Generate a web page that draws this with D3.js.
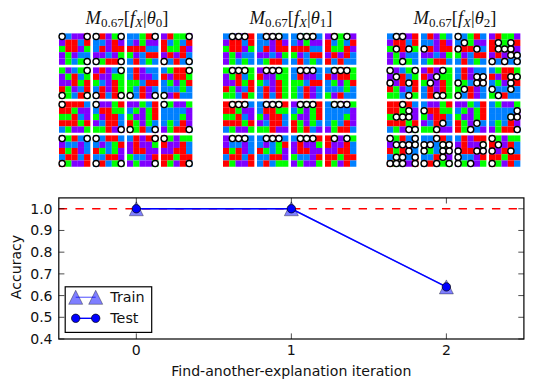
<!DOCTYPE html>
<html><head><meta charset="utf-8">
<script src="https://cdn.jsdelivr.net/npm/d3@7"></script>
<style>html,body{margin:0;padding:0;background:#fff}svg{display:block}</style>
</head><body><svg id="c" width="533" height="389"></svg>
<script>
const iterations=[0,1,2];
const trainAccuracy=[1.0,1.0,0.64];
const testAccuracy=[1.0,1.0,0.64];
const yTicks=[0.4,0.5,0.6,0.7,0.8,0.9,1.0];
const baseline=[1.0];
const thetaLabels=["0","1","2"];
const palette={R:"#ff0000",G:"#00ff00",B:"#0080ff",P:"#8000ff"};
// 16 example grids, row by row
const grids=[
["BBPPR","PRRBR","GRRPG","PGPBB","PGBGB"],
["BRPGB","BBPRP","BRPRR","PPBPG","BGRRB"],
["BBGRB","BPGPP","RRRBB","GPBRR","BRBGB"],
["PRGGP","RBGBR","RGGRP","PRPRB","RBRBB"],
["GPBGG","PGRBG","PPRGR","RGPBR","GGBRG"],
["PRPBG","RPPGG","GBPRG","BRPRG","BRBRG"],
["BRPBB","BRPPB","GGBRR","GBRPB","GBRPB"],
["BGRRG","RPRRG","BGPGR","BBBGB","GPRBB"],
["RRRRB","RRGPP","GGRBP","RRRGR","BGPPG"],
["BPPGR","BRRGG","GPRRB","PBRRB","GGRPP"],
["PPGBR","BGPGR","GPPGR","RGPGB","RGRBP"],
["BGPPG","BBBBP","BBBGP","BGBRP","PGRRB"],
["PGRBB","PBBPB","RGRPB","BRRBR","RGPPR"],
["BBRRB","BPBGR","RGBGP","BBRRP","BRBGG"],
["BRPRR","PRPPG","PRRPP","GBBPR","PGPPG"],
["RGPGG","RPPRB","PPRRB","RRGRR","RGPRB"]
];
// highlighted cells per example as [row,col], one list per panel
const dots0=[
[[0,0],[0,4],[4,4]],[[0,0],[0,4],[4,0],[4,4]],[[0,4]],[[0,4],[4,0],[4,4]],
[[0,4],[4,0],[4,4]],[[0,4],[4,0],[4,4]],[[4,0],[4,4]],[[0,4],[4,0]],
[[0,0]],[[0,0],[4,4]],[[4,0],[4,4]],[[0,0],[4,4]],
[[0,0],[0,4],[4,0]],[[0,0],[4,0],[4,4]],[[0,4],[4,4]],[[0,0],[4,4]]
];
const top3=[[0,1],[0,2],[0,3]], top2=[[0,1],[0,3]];
const dots1=[top3,top3,top3,top2,top3,top3,top3,top3,top3,top3,top3,top3,top3,top3,top3,top2];
const dots2=[
[[0,1],[0,2],[2,1],[2,3],[4,2]],[[2,0]],[[0,0],[1,1],[2,0],[2,3]],
[[1,1],[1,3],[2,1],[2,2],[2,3],[3,3],[3,4],[4,0],[4,2],[4,4]],
[[0,0],[0,4],[1,1],[2,0],[2,3],[4,3]],[[0,3],[1,2],[2,1],[4,2],[4,3]],
[[1,3],[1,4],[2,3],[2,4],[2,0],[3,1],[4,0]],[[1,3],[1,4],[2,3],[3,3],[3,0],[4,1]],
[[0,2],[1,3],[2,1],[2,2],[2,3],[4,3],[4,4]],[[1,0],[3,3],[4,2]],[[3,3],[4,2]],[[1,4],[2,3],[2,4],[4,4]],
[[0,0],[0,4],[1,1],[1,2],[1,3],[1,4],[2,3],[3,1],[3,2],[3,4],[4,0],[4,1],[4,2],[4,4]],
[[0,2],[1,0],[1,1],[1,3],[1,4],[2,0],[2,3],[2,4],[3,3],[4,0],[4,2],[4,4]],
[[1,4],[2,0],[2,3],[2,4],[3,0],[4,0],[4,2]],[[0,0],[1,1],[2,0],[2,3],[4,0]]
];
const panelDots=[dots0,dots1,dots2];

const svg=d3.select("#c");
const panelX=[59,223,387];
const colScale=d3.scaleBand().domain(d3.range(4)).range([0,136]);
const rowScale=d3.scaleBand().domain(d3.range(4)).range([33.4,169.4]);
const cell=d3.scaleBand().domain(d3.range(5)).range([0,31.3]);
panelDots.forEach((dots,p)=>{
  const g=svg.append("g").attr("transform",`translate(${panelX[p]},0)`);
  const tiles=g.selectAll("g.t").data(grids).join("g").attr("class","t")
    .attr("transform",(d,i)=>`translate(${colScale(i%4)},${rowScale(Math.floor(i/4))})`);
  tiles.each(function(rows,i){
    const t=d3.select(this);
    t.selectAll("rect").data(rows.flatMap((s,r)=>[...s].map((ch,c)=>({r,c,ch})))).join("rect")
      .attr("x",d=>cell(d.c)).attr("y",d=>cell(d.r))
      .attr("width",cell.bandwidth()+0.05).attr("height",cell.bandwidth()+0.05)
      .attr("fill",d=>palette[d.ch]);
    t.selectAll("circle").data(dots[i]).join("circle")
      .attr("cx",d=>cell(d[1])+cell.bandwidth()/2).attr("cy",d=>cell(d[0])+cell.bandwidth()/2)
      .attr("r",3.1).attr("fill","#fff").attr("stroke","#000").attr("stroke-width",1.4);
  });
  const tx=svg.append("text").attr("x",panelX[p]+68).attr("y",24).attr("text-anchor","middle")
    .attr("font-family","'Liberation Serif',serif").attr("font-size",18.5).attr("fill","#111");
  const sp=(s,o={})=>{const e=tx.append("tspan").text(s);
    if(o.i)e.attr("font-style","italic");if(o.fs)e.attr("font-size",o.fs);if(o.dy)e.attr("dy",o.dy);return e;};
  sp("M",{i:1});sp("0.67",{fs:13,dy:3});sp("[",{dy:-3});sp("f",{i:1});sp("X",{i:1,fs:13,dy:3});
  sp("|",{dy:-3});sp("θ",{i:1});sp(thetaLabels[p],{fs:13,dy:3});sp("]",{dy:-3});
});

const L=58.8,R=523.9,T=197.9,B=339;
const x=d3.scaleLinear().domain([-0.5,2.5]).range([L,R]);
const y=d3.scaleLinear().domain([0.4,1.05]).range([B,T]);
const font="'DejaVu Sans',sans-serif";
const lineGen=d3.line().x((d,i)=>x(iterations[i])).y(d=>y(d));

svg.append("path").datum(iterations.map(()=>baseline[0]))
  .attr("d",d3.line().x((d,i)=>i==0?L:(i==1?x(1):R)).y(d=>y(d)))
  .attr("fill","none").attr("stroke","#f00").attr("stroke-width",1.4).attr("stroke-dasharray","8.33 8.33");
const tri=d3.symbol().type({draw(ctx,s){ctx.moveTo(0,-s);ctx.lineTo(s,s);ctx.lineTo(-s,s);ctx.closePath();}}).size(7);
const triPath=tri();
svg.append("path").datum(trainAccuracy).attr("d",lineGen).attr("fill","none").attr("stroke","#00f").attr("stroke-opacity",.5).attr("stroke-width",1.4);
svg.selectAll("path.tr").data(trainAccuracy).join("path").attr("class","tr").attr("d",triPath)
  .attr("transform",(d,i)=>`translate(${x(iterations[i])},${y(d)})`)
  .attr("fill","#00f").attr("fill-opacity",.5).attr("stroke","#000").attr("stroke-opacity",.5).attr("stroke-width",.7);
svg.append("path").datum(testAccuracy).attr("d",lineGen).attr("fill","none").attr("stroke","#00f").attr("stroke-width",1.4);
svg.selectAll("circle.te").data(testAccuracy).join("circle").attr("class","te")
  .attr("cx",(d,i)=>x(iterations[i])).attr("cy",d=>y(d)).attr("r",4.2)
  .attr("fill","#00f").attr("stroke","#000").attr("stroke-width",.7);

// axes frame and ticks
svg.append("rect").attr("x",L).attr("y",T).attr("width",R-L).attr("height",B-T).attr("fill","none").attr("stroke","#000").attr("stroke-width",1.2);
const axis=svg.append("g").attr("font-family",font).attr("font-size",14.1).attr("fill","#111");
const tick=(a,b,c,d)=>axis.append("line").attr("x1",a).attr("y1",b).attr("x2",c).attr("y2",d).attr("stroke","#000").attr("stroke-width",.7);
iterations.forEach(v=>{const px=x(v);tick(px,B,px,B-5.6);tick(px,T,px,T+5.6);
  axis.append("text").attr("x",px).attr("y",355).attr("text-anchor","middle").text(v);});
yTicks.forEach(v=>{const py=y(v);tick(L,py,L+5.6,py);tick(R,py,R-5.6,py);
  axis.append("text").attr("x",52.6).attr("y",py+5).attr("text-anchor","end").text(v.toFixed(1));});
axis.append("text").attr("x",291.3).attr("y",376).attr("text-anchor","middle").text("Find-another-explanation iteration");
axis.append("text").attr("transform","translate(21,267) rotate(-90)").attr("text-anchor","middle").text("Accuracy");

// legend
const lg=svg.append("g");
lg.append("rect").attr("x",65.2).attr("y",286.8).attr("width",86.5).attr("height",45.6).attr("fill","#fff").attr("stroke","#000").attr("stroke-width",1.2);
const lx=d3.scaleLinear().domain([0,1]).range([75.7,95.7]);
lg.append("line").attr("x1",lx(0)).attr("x2",lx(1)).attr("y1",297.3).attr("y2",297.3).attr("stroke","#00f").attr("stroke-opacity",.5).attr("stroke-width",1.4);
[0,1].forEach(k=>lg.append("path").attr("d",triPath).attr("transform",`translate(${lx(k)},297.3)`)
  .attr("fill","#00f").attr("fill-opacity",.5).attr("stroke","#000").attr("stroke-opacity",.5).attr("stroke-width",.7));
lg.append("line").attr("x1",lx(0)).attr("x2",lx(1)).attr("y1",318.3).attr("y2",318.3).attr("stroke","#00f").attr("stroke-width",1.4);
[0,1].forEach(k=>lg.append("circle").attr("cx",lx(k)).attr("cy",318.3).attr("r",4.2).attr("fill","#00f").attr("stroke","#000").attr("stroke-width",.7));
lg.append("g").attr("font-family",font).attr("font-size",14.3).attr("fill","#111").selectAll("text")
  .data(["Train","Test"]).join("text").attr("x",110.3).attr("y",(d,i)=>302.3+i*21).text(d=>d);
</script></body></html>
